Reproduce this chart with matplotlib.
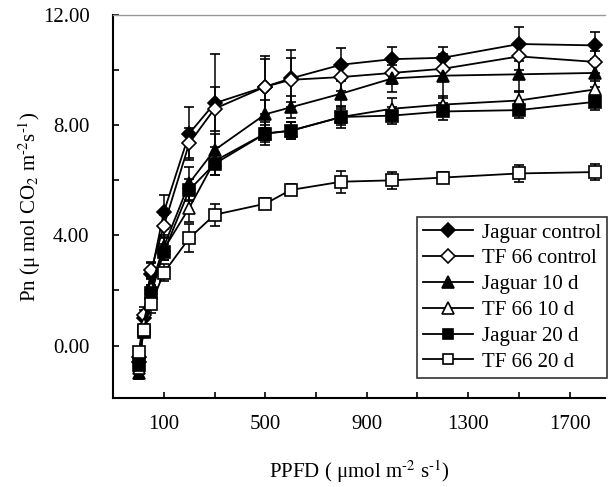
import matplotlib
matplotlib.use('Agg')
from matplotlib import pyplot as plt
from matplotlib.lines import Line2D
from matplotlib.ticker import MultipleLocator, FixedLocator

plt.rcParams['font.family'] = ['Liberation Serif', 'DejaVu Serif']
plt.rcParams['mathtext.fontset'] = 'stix'
plt.rcParams['font.size'] = 15

# light intensity steps (PPFD)
ppfd = [0, 20, 50, 100, 200, 300, 500, 600, 800, 1000, 1200, 1500, 1800]

jaguar_ctrl = [-0.6, 1.0, 2.6, 4.85, 7.7, 8.8, 9.4, 9.7, 10.2, 10.4, 10.45, 10.95, 10.9]
tf66_ctrl = [-0.4, 1.1, 2.75, 4.35, 7.35, 8.6, 9.4, 9.65, 9.75, 9.9, 10.05, 10.5, 10.3]
jaguar_10 = [-1.0, 0.7, 2.2, 3.6, 5.9, 7.1, 8.4, 8.65, 9.15, 9.7, 9.8, 9.85, 9.9]
tf66_10 = [-0.8, 0.8, 2.1, 3.5, 5.0, 6.7, 7.7, 7.8, 8.3, 8.6, 8.75, 8.9, 9.3]
jaguar_20 = [-0.7, 0.5, 1.9, 3.4, 5.65, 6.6, 7.7, 7.8, 8.3, 8.35, 8.5, 8.55, 8.85]
tf66_20 = [-0.25, 0.55, 1.5, 2.65, 3.9, 4.75, 5.15, 5.65, 5.95, 6.0, 6.1, 6.25, 6.3]

err_jaguar_ctrl = [0.2, 0.3, 0.4, 0.6, 0.95, 1.8, 1.1, 1.05, 0.6, 0.45, 0.4, 0.6, 0.5]
err_tf66_ctrl = [0.2, 0.3, 0.3, 0.4, 0.55, 0.8, 1.0, 0.8, 0.5, 0.4, 0.4, 0.5, 0.4]
err_jaguar_10 = [0.2, 0.3, 0.3, 0.4, 0.6, 0.6, 0.5, 0.4, 0.5, 0.5, 0.8, 0.6, 0.5]
err_tf66_10 = [0.2, 0.2, 0.3, 0.4, 0.5, 0.5, 0.4, 0.3, 0.4, 0.4, 0.3, 0.3, 0.3]
err_jaguar_20 = [0.2, 0.2, 0.3, 0.3, 0.4, 0.4, 0.3, 0.3, 0.3, 0.3, 0.3, 0.3, 0.3]
err_tf66_20 = [0.2, 0.2, 0.3, 0.3, 0.5, 0.4, 0.2, 0.2, 0.4, 0.3, 0.2, 0.3, 0.3]

labels = ['Jaguar control', 'TF 66 control', 'Jaguar 10 d', 'TF 66 10 d', 'Jaguar 20 d', 'TF 66 20 d']
series = [jaguar_ctrl, tf66_ctrl, jaguar_10, tf66_10, jaguar_20, tf66_20]
errors = [err_jaguar_ctrl, err_tf66_ctrl, err_jaguar_10, err_tf66_10, err_jaguar_20, err_tf66_20]
markers = ['D', 'D', '^', '^', 's', 's']
faces = ['black', 'white', 'black', 'white', 'black', 'white']
sizes = [7.5, 7.5, 9, 9, 8.5, 8.5]

fig = plt.figure(figsize=(6.15, 4.87), dpi=100)
ax = fig.add_axes([0.184, 0.183, 0.8, 0.786])

handles = []
for vals, err, lab, mk, fc, ms in zip(series, errors, labels, markers, faces, sizes):
    ax.errorbar(ppfd, vals, yerr=err, color='black', marker=mk, mfc=fc, mec='black',
                ms=ms, mew=1.2, lw=1.3, capsize=3.5, elinewidth=1.1, capthick=1.1)
    handles.append(Line2D([], [], color='black', marker=mk, mfc=fc, mec='black',
                          ms=ms * 0.9, mew=1.2, lw=1.3, label=lab))

ax.set_xlim(-100, 1840)
ax.set_ylim(-1.9, 12)
ax.xaxis.set_major_locator(FixedLocator([100, 500, 900, 1300, 1700]))
ax.xaxis.set_minor_locator(FixedLocator([300, 700, 1100, 1500]))
ax.yaxis.set_major_locator(MultipleLocator(4))
ax.yaxis.set_minor_locator(MultipleLocator(2))
ax.yaxis.set_major_formatter(plt.FormatStrFormatter('%.2f'))
ax.tick_params(which='both', direction='in', length=4, width=1.2)
ax.tick_params(axis='y', which='both', pad=17)
ax.tick_params(axis='x', which='both', pad=12)

ax.spines['right'].set_visible(False)
ax.spines['top'].set_color('#999999')
ax.spines['top'].set_linewidth(1.0)
ax.spines['left'].set_linewidth(1.5)
ax.spines['bottom'].set_linewidth(1.5)

ax.set_xlabel('PPFD ( μmol m$^{‐2}$ s$^{‐1}$)', labelpad=18)
ax.set_ylabel('Pn (μ mol CO$_2$ m$^{‐2}$s$^{‐1}$)', labelpad=0)

leg = ax.legend(handles=handles, loc='lower right', bbox_to_anchor=(1.004, 0.052),
                frameon=True, fancybox=False, edgecolor='black', handlelength=2.4,
                handletextpad=0.4, labelspacing=0.3, borderpad=0.3, borderaxespad=0,
                fontsize=15)
leg.get_frame().set_linewidth(1.2)

fig.savefig('out.png', dpi=100)
